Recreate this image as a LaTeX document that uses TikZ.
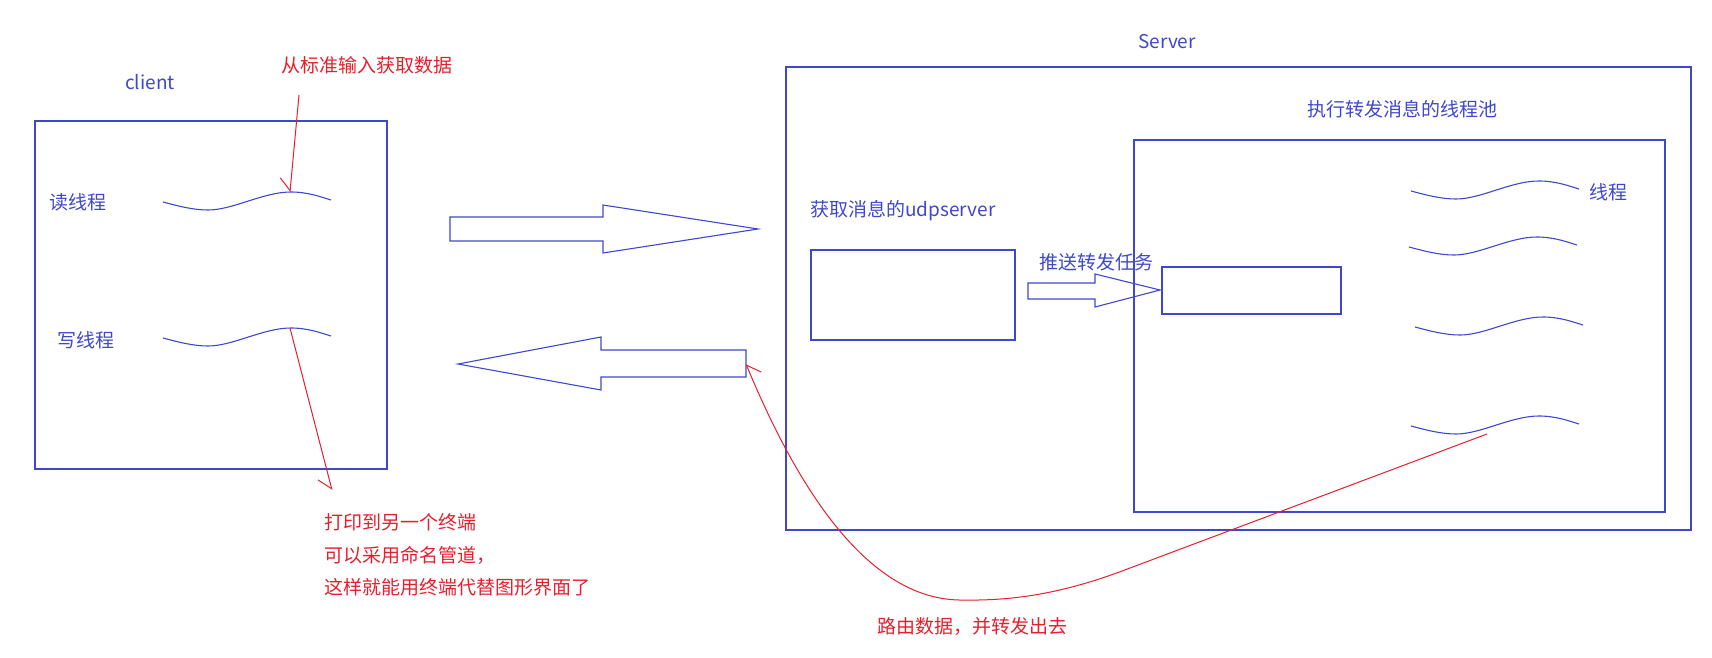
\documentclass[tikz,border=0pt]{standalone}
\usepackage{fontspec}
\setmainfont{Noto Sans CJK SC}
\usetikzlibrary{arrows.meta}
\definecolor{paintblue}{RGB}{63,72,204}
\definecolor{paintred}{RGB}{232,30,45}
\tikzset{
  blueline/.style={draw=paintblue, line width=0.55pt},
  redline/.style={draw=paintred, line width=0.5pt},
  redtip/.style={-{Straight Barb[right,length=6pt,width=11pt]}},
  bluetext/.style={text=paintblue, inner sep=0pt, font=\fontsize{9.5}{12}\selectfont},
  redtext/.style={text=paintred, inner sep=0pt, font=\fontsize{9.5}{16.25}\selectfont},
  thread/.pic={
    \draw[blueline] (0,0) .. controls (15,4) and (30,8) .. (45,8)
      .. controls (70,8) and (100,-10) .. (128,-10)
      .. controls (145,-10) and (158,-5) .. (168,-2);
    \coordinate (-top) at (127,-10);
    \coordinate (-src) at (76,8);
  }
}
\begin{document}
\begin{tikzpicture}[x=0.5pt,y=-0.5pt]
\useasboundingbox (0,0) rectangle (1712,658);
% client side
\node[bluetext] (client) at (150,82) {client};
\draw[blueline] (35,121) rectangle (387,469);
\node[bluetext, anchor=west] (readlbl) at (49,202) {读线程};
\node[bluetext, anchor=west] (writelbl) at (57,340) {写线程};
\pic (rd) at (163,202) {thread};
\pic (wr) at (163,338) {thread};
\node[redtext, anchor=west] (stdin) at (281,65) {从标准输入获取数据};
\coordinate (stdinfoot) at (299,95);
\draw[redline, redtip] (stdinfoot) -- (rd-top);
\coordinate (termend) at (332,490);
\draw[redline, redtip] (wr-top) -- (termend);
\node[redtext, anchor=west, align=left] (termnote) at (324,555)
  {打印到另一个终端\\可以采用命名管道，\\这样就能用终端代替图形界面了};
% big arrows
\draw[blueline] (450,217) -- (603,217) -- (603,205) -- (758,229) -- (603,253)
  -- (603,241) -- (450,241) -- cycle;
\draw[blueline] (746,350) -- (601,350) -- (601,337) -- (458,364) -- (601,390)
  -- (601,377) -- (746,377) -- cycle;
\coordinate (backtail) at (746,364);
% server side
\node[bluetext] (server) at (1167,42) {Server};
\draw[blueline] (786,67) rectangle (1691,530);
\node[bluetext, anchor=west] (udplbl) at (810,211) {获取消息的udpserver};
\draw[blueline] (811,250) rectangle (1015,340);
\node[bluetext, anchor=west] (pushlbl) at (1039,262) {推送转发任务};
\draw[blueline] (1028,283) -- (1095,283) -- (1095,274) -- (1160,290) -- (1095,307)
  -- (1095,299) -- (1028,299) -- cycle;
\node[bluetext, anchor=west] (poollbl) at (1307,109) {执行转发消息的线程池};
\draw[blueline] (1134,140) rectangle (1665,512);
\draw[blueline] (1162,267) rectangle (1341,314);
\pic (t1) at (1411,191) {thread};
\pic (t2) at (1409,247) {thread};
\pic (t3) at (1415,327) {thread};
\pic (t4) at (1411,426) {thread};
\node[bluetext, anchor=west] (threadlbl) at (1589,192) {线程};
% route back
\draw[redline, redtip] (t4-src) -- (1130,568) .. controls (1060,595) and (1010,601) .. (959,600)
  .. controls (860,598) and (790,470) .. (backtail);
\node[redtext, anchor=west] (routelbl) at (877,626) {路由数据，并转发出去};
\end{tikzpicture}
\end{document}
